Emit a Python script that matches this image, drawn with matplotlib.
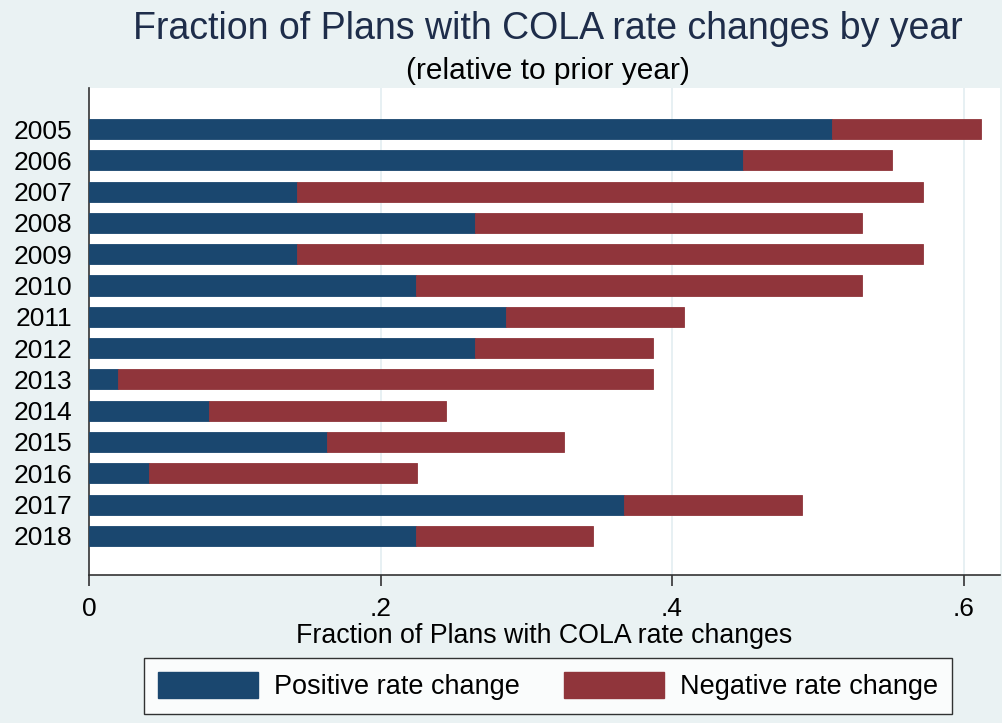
import matplotlib
matplotlib.use("Agg")
import matplotlib.pyplot as plt
import matplotlib.patches as mpatches
from matplotlib.ticker import FuncFormatter

# ── data ──────────────────────────────────────────────────────────────────────
years = ["2005", "2006", "2007", "2008", "2009", "2010", "2011",
         "2012", "2013", "2014", "2015", "2016", "2017", "2018"]
positive = [0.510, 0.449, 0.143, 0.265, 0.143, 0.224, 0.286,
            0.265, 0.020, 0.082, 0.163, 0.041, 0.367, 0.224]
negative = [0.102, 0.102, 0.429, 0.265, 0.429, 0.306, 0.122,
            0.122, 0.367, 0.163, 0.163, 0.184, 0.122, 0.122]
x_ticks = [0, 0.2, 0.4, 0.6]

# ── stata s2color-ish palette ─────────────────────────────────────────────────
C_BG    = "#EAF2F3"
C_NAVY  = "#1A476F"
C_RED   = "#90353B"
C_TITLE = "#1E2D4A"
C_GRID  = "#E3EEF1"

plt.rcParams["font.family"] = ["Liberation Sans", "DejaVu Sans"]

W, H = 1003, 723
fig = plt.figure(figsize=(W / 100, H / 100), dpi=100)
fig.patch.set_facecolor(C_BG)

# plot region in pixels
px_l, px_r, px_t, px_b = 89, 1000, 88, 575
ax = fig.add_axes([px_l / W, 1 - px_b / H, (px_r - px_l) / W, (px_b - px_t) / H])
ax.set_facecolor("white")

ypos = list(range(len(years)))
ax.barh(ypos, positive, height=0.64, color=C_NAVY, edgecolor=C_NAVY,
        lw=0.6, zorder=3)
ax.barh(ypos, negative, left=positive, height=0.64, color=C_RED,
        edgecolor=C_RED, lw=0.6, zorder=3)

ax.set_xlim(0, 0.625)
ax.set_ylim(14.25, -1.31)

ax.set_yticks(ypos)
ax.set_yticklabels(years, fontsize=19)
ax.tick_params(axis="y", length=0, pad=12)

ax.set_xticks(x_ticks)
ax.xaxis.set_major_formatter(FuncFormatter(
    lambda v, _: "0" if v == 0 else ("%.1f" % v).lstrip("0")))
ax.tick_params(axis="x", length=8, width=1.2, color="#333333",
               labelsize=19, pad=8)
ax.set_xlabel("Fraction of Plans with COLA rate changes", fontsize=19.3,
              labelpad=1)

for v in x_ticks[1:]:
    ax.axvline(v, color=C_GRID, lw=1.2, zorder=1)

for s in ["top", "right"]:
    ax.spines[s].set_visible(False)
for s in ["left", "bottom"]:
    ax.spines[s].set_color("#333333")
    ax.spines[s].set_linewidth(1.2)

# ── titles ────────────────────────────────────────────────────────────────────
fig.text(548 / W, 1 - 29 / H, "Fraction of Plans with COLA rate changes by year",
         ha="center", va="center", fontsize=27, color=C_TITLE)
fig.text(548 / W, 1 - 71 / H, "(relative to prior year)",
         ha="center", va="center", fontsize=21.5, color="black")

# ── legend ────────────────────────────────────────────────────────────────────
handles = [mpatches.Patch(color=C_NAVY, label="Positive rate change"),
           mpatches.Patch(color=C_RED, label="Negative rate change")]
leg = fig.legend(handles=handles, loc="center", ncol=2,
                 bbox_to_anchor=(548 / W, 1 - 686 / H), fontsize=19.5,
                 frameon=True, fancybox=False, edgecolor="black",
                 handlelength=3.7, handleheight=1.1, handletextpad=0.6,
                 columnspacing=1.6, borderpad=0.5)
leg.get_frame().set_linewidth(1.0)

fig.savefig("out.png", dpi=100, facecolor=fig.get_facecolor())
